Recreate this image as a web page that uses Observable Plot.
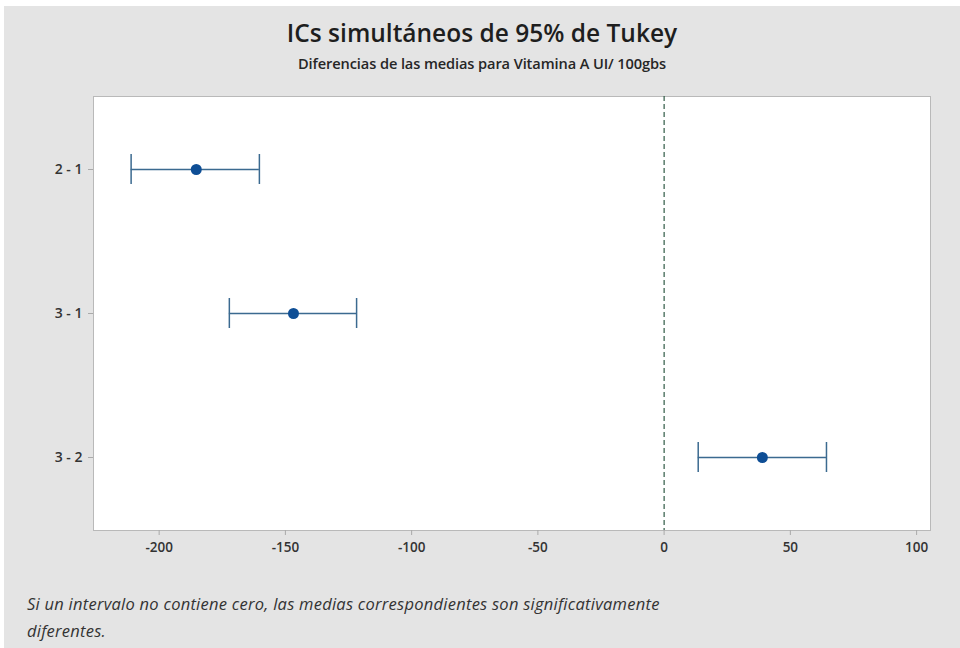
<!DOCTYPE html>
<html>
<head>
<meta charset="utf-8">
<script src="https://cdn.jsdelivr.net/npm/d3@7"></script>
<script src="https://cdn.jsdelivr.net/npm/@observablehq/plot@0.6"></script>
<style>
  html, body { margin: 0; padding: 0; background: #ffffff; }
  #panel {
    position: absolute; left: 4px; top: 6px; width: 956px; height: 642px;
    background: #e4e4e4; overflow: hidden;
    font-family: "Open Sans", "Noto Sans", sans-serif; color: #222;
  }
  #title {
    position: absolute; left: 0; width: 956px; top: 10px; text-align: center;
    font-size: 24.5px; font-weight: 600; color: #1e1e1e;
  }
  #subtitle {
    position: absolute; left: 0; width: 956px; top: 47px; text-align: center;
    font-size: 14.6px; font-weight: 600; color: #262626; letter-spacing: -0.1px;
  }
  #chart { position: absolute; left: 0; top: 0; }
  #caption {
    position: absolute; left: 23px; top: 584px; width: 760px;
    font-size: 16.5px; font-style: italic; line-height: 27px; color: #333;
    letter-spacing: 0.25px;
  }
  #chart text { font-weight: 600; }
</style>
</head>
<body>
<div id="panel">
  <div id="title">ICs simultáneos de 95% de Tukey</div>
  <div id="subtitle">Diferencias de las medias para Vitamina A UI/ 100gbs</div>
  <div id="chart"></div>
  <div id="caption">Si un intervalo no contiene cero, las medias correspondientes son significativamente<br>diferentes.</div>
</div>
<script>
// Tukey simultaneous 95% confidence intervals for pairwise differences of means
const pairs  = ["2 - 1", "3 - 1", "3 - 2"];
const lower  = [-211.1, -172.2, 13.5];
const center = [-185.3, -146.8, 38.9];
const upper  = [-160.3, -121.8, 64.3];
const xTicks = [-200, -150, -100, -50, 0, 50, 100];

const rows = pairs.map((p, i) => ({pair: p, low: lower[i], mid: center[i], high: upper[i]}));

const lineColor = "#3b6a90";
const dotColor = "#0e4e95";

// band scale: narrow bands give the height of the interval end caps
const inner = 0.793;

const chart = Plot.plot({
  width: 956,
  height: 560,
  marginLeft: 89,
  marginRight: 30,
  marginTop: 90,
  marginBottom: 36,
  style: {background: "transparent", fontFamily: "'Open Sans', sans-serif"},
  x: {domain: [-226, 105.5], ticks: xTicks, label: null},
  y: {type: "band", domain: pairs, paddingInner: inner, paddingOuter: inner / 2, label: null},
  marks: [
    Plot.frame({fill: "white", stroke: "#b9b9b9"}),
    Plot.ruleX([0], {stroke: "#2f5a45", strokeWidth: 1.2, strokeDasharray: "5,3"}),
    Plot.ruleY(rows, {y: "pair", x1: "low", x2: "high", stroke: lineColor, strokeWidth: 1.5}),
    Plot.tickX(rows, {x: "low", y: "pair", stroke: lineColor, strokeWidth: 1.5}),
    Plot.tickX(rows, {x: "high", y: "pair", stroke: lineColor, strokeWidth: 1.5}),
    Plot.dot(rows, {x: "mid", y: "pair", r: 5.5, fill: dotColor, stroke: "none"}),
    Plot.axisX({ticks: xTicks, tickFormat: d => String(d), tickSize: 5, tickPadding: 7, fontSize: 13.5, stroke: "#aaa", color: "#333", label: null}),
    Plot.axisY({tickSize: 5, tickPadding: 6, fontSize: 14, stroke: "#aaa", color: "#333", label: null})
  ]
});
document.getElementById("chart").appendChild(chart);
</script>
</body>
</html>
